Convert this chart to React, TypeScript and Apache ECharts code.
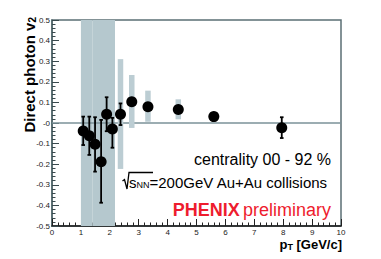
import React, { useEffect, useRef } from "react";
import * as echarts from "echarts";

// data points: pT, v2, stat error bounds
const ptValues = [1.08, 1.29, 1.49, 1.7, 1.89, 2.09, 2.37, 2.76, 3.32, 4.37, 5.6, 7.95];
const v2Values = [-0.039, -0.062, -0.103, -0.188, 0.042, -0.029, 0.042, 0.103, 0.079, 0.066, 0.031, -0.023];
const statHigh = [0.031, 0.031, 0.028, 0.015, 0.125, 0.025, 0.095, 0.11, 0.085, 0.07, 0.035, 0.028];
const statLow = [-0.107, -0.155, -0.236, -0.387, -0.04, -0.12, -0.01, 0.096, 0.073, 0.062, 0.027, -0.073];

// wide systematic bands (x range, y range)
const bandXLow = [1.0, 1.395];
const bandXHigh = [1.395, 2.18];
const bandYLow = [-0.5, -0.5];
const bandYHigh = [0.5, 0.5];

// narrow systematic boxes
const sysX = [2.37, 2.76, 3.32, 4.37];
const sysLow = [-0.223, -0.024, 0.006, 0.018];
const sysHigh = [0.31, 0.233, 0.157, 0.115];

const xTickLabels = ["0", "1", "2", "3", "4", "5", "6", "7", "8", "9", "10"];
const yTickLabels = ["-0.5", "-0.4", "-0.3", "-0.2", "-0.1", "-0", "0.1", "0.2", "0.3", "0.4", "0.5"];

const FONT = "Liberation Sans, Arial, Helvetica, sans-serif";

export default function App() {
  const ref = useRef<HTMLDivElement>(null);
  useEffect(() => {
    if (!ref.current) return;
    const chart = echarts.init(ref.current, undefined, { renderer: "svg" });
    const bandData = bandXLow.map((x0, i) => [x0, bandXHigh[i], bandYLow[i], bandYHigh[i]]);
    const sysData = sysX.map((x, i) => [x, sysLow[i], sysHigh[i]]);
    const errData = ptValues.map((x, i) => [x, statLow[i], statHigh[i]]);
    const pointData = ptValues.map((x, i) => [x, v2Values[i]]);

    chart.setOption({
      animation: false,
      grid: {
        left: 52,
        right: 40,
        top: 20,
        bottom: 33,
        show: true,
        borderColor: "#5b6f74",
        borderWidth: 1.5,
        backgroundColor: "transparent",
      },
      xAxis: {
        type: "value",
        min: 0,
        max: 10,
        interval: 1,
        axisLine: { show: true, onZero: false, lineStyle: { color: "#1a1a1a", width: 1.5 } },
        axisTick: { show: true, inside: true, length: 7, lineStyle: { color: "#222", width: 1 } },
        minorTick: { show: true, splitNumber: 5, length: 3.5, lineStyle: { color: "#222", width: 1 } },
        splitLine: { show: false },
        axisLabel: {
          fontSize: 8,
          fontFamily: FONT,
          color: "#222",
          margin: 2,
          showMaxLabel: true,
          showMinLabel: true,
          formatter: (v: number) => xTickLabels[Math.round(v)] ?? "",
        },
      },
      yAxis: {
        type: "value",
        min: -0.5,
        max: 0.5,
        interval: 0.1,
        axisLine: { show: true, onZero: false, lineStyle: { color: "#4f6469", width: 1.5 } },
        axisTick: { show: true, inside: true, length: 7, lineStyle: { color: "#3a4a4e", width: 1 } },
        minorTick: { show: true, splitNumber: 5, length: 3.5, lineStyle: { color: "#3a4a4e", width: 1 } },
        splitLine: { show: false },
        axisLabel: {
          fontSize: 8,
          fontFamily: FONT,
          color: "#222",
          margin: 2,
          showMaxLabel: true,
          showMinLabel: true,
          formatter: (v: number) => yTickLabels[Math.round((v + 0.5) * 10)] ?? "",
        },
      },
      series: [
        {
          type: "custom",
          z: 1,
          silent: true,
          clip: true,
          data: bandData,
          renderItem: (params: any, api: any) => {
            const p0 = api.coord([api.value(0), api.value(3)]);
            const p1 = api.coord([api.value(1), api.value(2)]);
            return {
              type: "rect",
              shape: { x: p0[0], y: p0[1], width: p1[0] - p0[0], height: p1[1] - p0[1] },
              style: { fill: "#b5c8ce" },
            };
          },
        },
        {
          type: "custom",
          z: 3,
          silent: true,
          clip: true,
          data: sysData,
          renderItem: (params: any, api: any) => {
            const top = api.coord([api.value(0), api.value(2)]);
            const bot = api.coord([api.value(0), api.value(1)]);
            const w = 5.5;
            return {
              type: "rect",
              shape: { x: top[0] - w / 2, y: top[1], width: w, height: bot[1] - top[1] },
              style: { fill: "#bccdd3" },
            };
          },
        },
        {
          type: "custom",
          z: 4,
          silent: true,
          clip: true,
          data: errData,
          renderItem: (params: any, api: any) => {
            const hi = api.coord([api.value(0), api.value(2)]);
            const lo = api.coord([api.value(0), api.value(1)]);
            const c = 1.8;
            const st = { stroke: "#000", lineWidth: 1.8 };
            return {
              type: "group",
              children: [
                { type: "line", shape: { x1: hi[0], y1: hi[1], x2: lo[0], y2: lo[1] }, style: st },
                { type: "line", shape: { x1: hi[0] - c, y1: hi[1], x2: hi[0] + c, y2: hi[1] }, style: st },
                { type: "line", shape: { x1: lo[0] - c, y1: lo[1], x2: lo[0] + c, y2: lo[1] }, style: st },
              ],
            };
          },
        },
        {
          type: "scatter",
          z: 5,
          data: pointData,
          symbol: "circle",
          symbolSize: 11,
          itemStyle: { color: "#000", opacity: 1 },
          markLine: {
            silent: true,
            symbol: "none",
            z: 2,
            label: { show: false },
            lineStyle: { color: "#7b9298", width: 1.5, type: "solid" },
            data: [{ yAxis: 0 }],
          },
        },
      ],
      graphic: [
        {
          type: "text",
          x: 29,
          y: 17,
          rotation: Math.PI / 2,
          style: {
            text: "{a|Direct photon v}{s|2}",
            textAlign: "right",
            textVerticalAlign: "middle",
            rich: {
              a: { fontSize: 15, fontWeight: "bold", fontFamily: FONT, fill: "#000" },
              s: { fontSize: 10, fontWeight: "bold", fontFamily: FONT, fill: "#000", verticalAlign: "bottom", padding: [6, 0, 0, 0] },
            },
          },
        },
        {
          type: "text",
          x: 342,
          y: 244,
          style: {
            text: "{p|p}{t|T}{r| [GeV/c]}",
            textAlign: "right",
            textVerticalAlign: "middle",
            rich: {
              p: { fontSize: 13, fontWeight: "bold", fontFamily: FONT, fill: "#000" },
              t: { fontSize: 9, fontWeight: "bold", fontFamily: FONT, fill: "#000", verticalAlign: "bottom", padding: [6, 0, 0, 0] },
              r: { fontSize: 13, fontWeight: "bold", fontFamily: FONT, fill: "#000" },
            },
          },
        },
        {
          type: "text",
          x: 331,
          y: 159,
          style: {
            text: "centrality 00 - 92 %",
            textAlign: "right",
            textVerticalAlign: "middle",
            fontSize: 16,
            fontFamily: FONT,
            fill: "#000",
          },
        },
        {
          type: "polyline",
          shape: {
            points: [
              [122.5, 181],
              [124.5, 179.5],
              [127, 189],
              [129, 172.5],
              [153, 172.5],
            ],
          },
          style: { stroke: "#000", lineWidth: 1.3, fill: "none" },
        },
        {
          type: "text",
          x: 129,
          y: 182,
          style: {
            text: "{s|s}{n|NN}{r|=200GeV Au+Au collisions}",
            textAlign: "left",
            textVerticalAlign: "middle",
            rich: {
              s: { fontSize: 15, fontFamily: FONT, fill: "#000" },
              n: { fontSize: 9, fontFamily: FONT, fill: "#000", verticalAlign: "bottom", padding: [6, 0, 0, 0] },
              r: { fontSize: 15, fontFamily: FONT, fill: "#000" },
            },
          },
        },
        {
          type: "text",
          x: 331,
          y: 210,
          style: {
            text: "{b|PHENIX} {r|preliminary}",
            textAlign: "right",
            textVerticalAlign: "middle",
            rich: {
              b: { fontSize: 18, fontWeight: "bold", fontFamily: FONT, fill: "#ee1c2e" },
              r: { fontSize: 18, fontFamily: FONT, fill: "#ee1c2e" },
            },
          },
        },
      ],
    });
    return () => chart.dispose();
  }, []);
  return (
    <div
      ref={ref}
      style={{ position: "fixed", left: 0, top: 0, width: 381, height: 259, background: "#fff" }}
    />
  );
}
